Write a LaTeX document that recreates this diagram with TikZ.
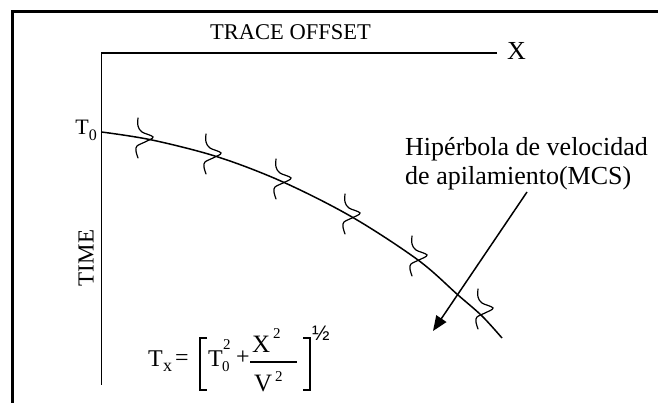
\documentclass[tikz,border=0pt]{standalone}
\usepackage{fontspec}
\setmainfont{Liberation Serif}
\newfontfamily\sansf{Liberation Sans}
\usetikzlibrary{arrows.meta}
\tikzset{
  frameline/.style={line width=3.5pt},
  axisline/.style={line width=1.2pt},
  curveline/.style={line width=1.5pt},
  waveline/.style={line width=1.2pt, line cap=round},
  arrowline/.style={line width=1.5pt, -{Triangle[length=15pt,width=12pt]}},
  bracketline/.style={line width=1.3pt},
  fbig/.style={anchor=base west, inner sep=0, font=\fontsize{24}{26}\selectfont},
  fsmall/.style={anchor=base west, inner sep=0, font=\fontsize{15}{16}\selectfont},
  wavelet/.pic={\draw[waveline] plot[smooth, tension=0.6] coordinates {(-15,-20) (-15,-12) (-11,-6) (0,-1) (-8,4) (-16,8) (-17,13) (-15,20)};}
}
\begin{document}
\begin{tikzpicture}[x=1pt,y=-1pt]
\clip (0,0) rectangle (658,403);
\fill[white] (0,0) rectangle (658,403);
% frame
\draw[frameline] (12.5,420) -- (12.5,11.5) -- (680,11.5);
% axes
\coordinate (origin) at (101.5,53);
\coordinate (xend) at (497,53);
\coordinate (yend) at (101.5,385);
\draw[axisline] (xend) -- (origin) -- (yend);
\node[anchor=base west, inner sep=0, font=\fontsize{22.5}{25}\selectfont] (trace) at (210,40) {TRACE OFFSET};
\node[anchor=base west, inner sep=0, font=\fontsize{26}{28}\selectfont] (xlab) at (507,60) {X};
\node[anchor=base east, inner sep=0, font=\fontsize{22}{24}\selectfont] (t0) at (97,135) {T\raisebox{-0.25em}{\fontsize{16}{16}\selectfont 0}};
\node[rotate=90, inner sep=0, font=\fontsize{23}{25}\selectfont] (time) at (86,258) {TIME};
% hyperbola
\draw[curveline] plot[smooth, tension=0.55] coordinates {(101.5,132) (152,140) (218,157) (283,182) (352,217) (418,260) (458,295) (482,316) (502,338)};
% wavelets
\pic at (153,138) {wavelet};
\pic at (221,154) {wavelet};
\pic at (291,179) {wavelet};
\pic at (360,214) {wavelet};
\pic at (427,256) {wavelet};
\pic at (493,309) {wavelet};
% label
\node[anchor=base west, inner sep=0, font=\fontsize{26}{29}\selectfont] (labA) at (405,156) {Hipérbola de velocidad};
\node[anchor=base west, inner sep=0, font=\fontsize{26}{29}\selectfont] (labB) at (405,185) {de apilamiento(MCS)};
\coordinate (arrS) at (527,192);
\coordinate (arrE) at (433,331);
\draw[arrowline] (arrS) -- (arrE);
% formula
\node[fbig] (fT) at (148,366) {T};
\node[fsmall, font=\fontsize{18}{18}\selectfont] (fx) at (163,371) {x};
\node[fbig] (feq) at (175,365.5) {=};
\coordinate (lbTL) at (207,338);
\coordinate (lbL1) at (200,338);
\coordinate (lbL2) at (200,390);
\coordinate (lbBL) at (207,390);
\draw[bracketline] (lbTL) -- (lbL1) -- (lbL2) -- (lbBL);
\node[fbig] (fT0) at (208,366) {T};
\node[fsmall] (f0) at (222,371) {0};
\node[fsmall] (f0sq) at (223,349) {2};
\node[fbig] (fplus) at (236,364) {+};
\coordinate (fbarL) at (250,362);
\coordinate (fbarR) at (297,362);
\draw[bracketline, line width=1.1pt] (fbarL) -- (fbarR);
\node[fbig, font=\fontsize{25}{26}\selectfont] (fX) at (252,352) {X};
\node[fsmall] (fXsq) at (273,338) {2};
\node[fbig, font=\fontsize{25}{26}\selectfont] (fV) at (254,391) {V};
\node[fsmall] (fVsq) at (275,381) {2};
\coordinate (rbTR) at (303,338);
\coordinate (rbR1) at (310,338);
\coordinate (rbR2) at (310,390);
\coordinate (rbBR) at (303,390);
\draw[bracketline] (rbTR) -- (rbR1) -- (rbR2) -- (rbBR);
\node[anchor=base west, inner sep=0, font=\sansf\fontsize{21}{22}\selectfont] (fhalf) at (312,340) {½};
\end{tikzpicture}
\end{document}
